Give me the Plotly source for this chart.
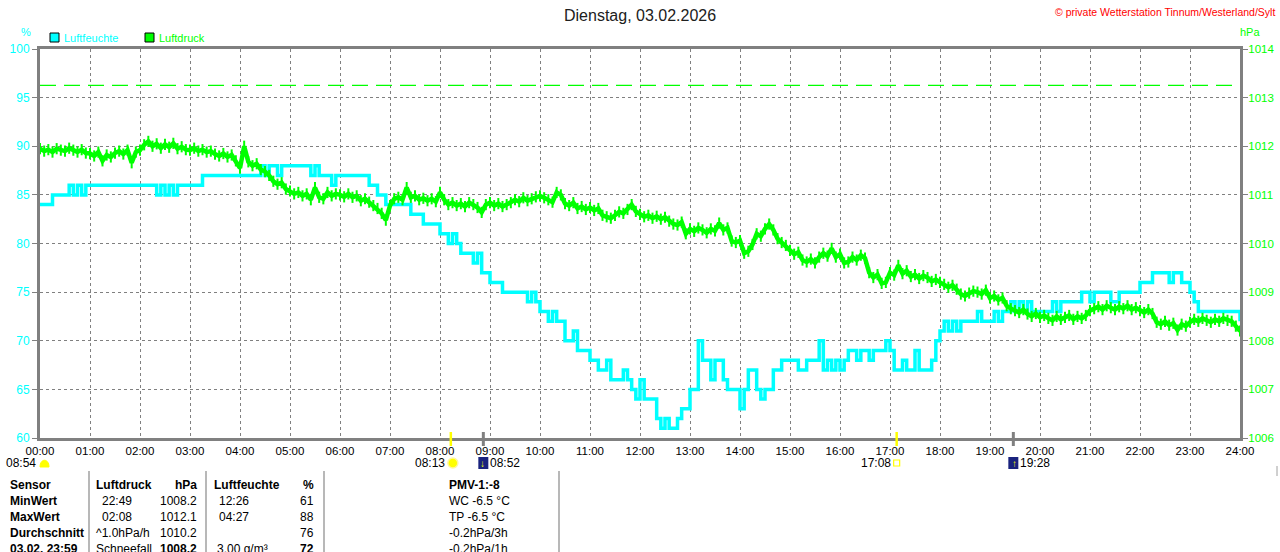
import pandas as pd
import plotly.graph_objects as go

titel = "Dienstag, 03.02.2026"
copyright_txt = "© private Wetterstation Tinnum/Westerland/Sylt"

stunden = ["%02d:00" % h for h in range(25)]

# Luftfeuchte in %, 5-Minuten-Werte (00:00 .. 24:00)
feuchte = [
    84, 84, 84, 85, 85, 85, 85, 86, 85, 86, 85, 86,   # 00
    86, 86, 86, 86, 86, 86, 86, 86, 86, 86, 86, 86,   # 01
    86, 86, 86, 86, 85, 86, 85, 86, 85, 86, 86, 86,   # 02
    86, 86, 86, 87, 87, 87, 87, 87, 87, 87, 87, 87,   # 03
    87, 87, 87, 87, 87, 88, 87, 88, 88, 87, 88, 88,   # 04
    88, 88, 88, 88, 88, 87, 88, 87, 87, 87, 86, 87,   # 05
    87, 87, 87, 87, 87, 87, 87, 86, 86, 85, 85, 84,   # 06
    84, 84, 84, 84, 84, 83, 83, 83, 82, 82, 82, 82,   # 07
    81, 81, 80, 81, 80, 79, 79, 79, 78, 79, 77, 77,   # 08
    76, 76, 76, 75, 75, 75, 75, 75, 75, 74, 75, 74,   # 09
    73, 73, 72, 73, 72, 72, 70, 70, 71, 69, 69, 69,   # 10
    68, 68, 67, 67, 68, 66, 66, 66, 67, 66, 65, 64,   # 11
    66, 64, 64, 64, 62, 61, 62, 61, 61, 62, 63, 63,   # 12
    65, 65, 70, 68, 68, 66, 68, 68, 66, 65, 65, 65,   # 13
    63, 65, 67, 67, 65, 64, 65, 65, 67, 67, 68, 68,   # 14
    68, 68, 67, 67, 68, 68, 68, 70, 67, 68, 67, 68,   # 15
    67, 68, 69, 69, 68, 69, 69, 68, 69, 69, 69, 70,   # 16
    69, 67, 67, 68, 67, 67, 69, 67, 67, 67, 68, 70,   # 17
    71, 72, 71, 72, 71, 72, 72, 72, 72, 73, 72, 72,   # 18
    72, 73, 72, 73, 73, 74, 73, 74, 73, 74, 73, 73,   # 19
    73, 73, 73, 74, 73, 74, 74, 74, 74, 74, 75, 75,   # 20
    74, 75, 75, 75, 75, 74, 74, 75, 75, 75, 75, 75,   # 21
    76, 76, 76, 77, 77, 77, 77, 76, 77, 77, 76, 76,   # 22
    75, 74, 73, 73, 73, 73, 73, 73, 73, 73, 73, 73,   # 23
    72,
]

# Luftdruck in hPa, 5-Minuten-Werte
druck = [
    1011.95, 1011.90, 1011.93, 1011.88, 1011.95, 1011.92, 1011.90, 1011.96, 1011.92, 1011.88, 1011.93, 1011.86,
    1011.85, 1011.80, 1011.88, 1011.70, 1011.82, 1011.78, 1011.86, 1011.90, 1011.84, 1011.92, 1011.66, 1011.88,
    1011.92, 1012.03, 1012.10, 1012.00, 1012.05, 1011.96, 1012.04, 1011.98, 1012.06, 1011.95, 1011.99, 1011.93,
    1011.92, 1011.96, 1011.90, 1011.93, 1011.88, 1011.90, 1011.84, 1011.80, 1011.85, 1011.78, 1011.82, 1011.70,
    1011.55, 1012.00, 1011.68, 1011.60, 1011.64, 1011.52, 1011.48, 1011.40, 1011.28, 1011.22, 1011.25, 1011.12,
    1011.08, 1011.02, 1011.05, 1010.98, 1011.02, 1010.90, 1011.15, 1010.95, 1010.92, 1011.05, 1010.98, 1011.02,
    1011.00, 1010.96, 1011.02, 1010.95, 1010.98, 1010.88, 1010.92, 1010.85, 1010.78, 1010.72, 1010.62, 1010.48,
    1010.78, 1010.92, 1010.95, 1010.90, 1011.15, 1010.95, 1010.98, 1010.90, 1010.93, 1010.88, 1010.92, 1010.86,
    1011.05, 1010.90, 1010.80, 1010.84, 1010.78, 1010.82, 1010.76, 1010.84, 1010.80, 1010.74, 1010.64, 1010.80,
    1010.84, 1010.78, 1010.82, 1010.76, 1010.80, 1010.84, 1010.90, 1010.86, 1010.94, 1010.88, 1010.92, 1010.96,
    1010.98, 1010.94, 1010.90, 1010.85, 1011.05, 1011.00, 1010.82, 1010.78, 1010.84, 1010.72, 1010.76, 1010.70,
    1010.74, 1010.68, 1010.72, 1010.58, 1010.55, 1010.52, 1010.58, 1010.65, 1010.62, 1010.70, 1010.80, 1010.66,
    1010.60, 1010.55, 1010.58, 1010.52, 1010.56, 1010.50, 1010.54, 1010.46, 1010.40, 1010.38, 1010.44, 1010.20,
    1010.30, 1010.25, 1010.32, 1010.28, 1010.22, 1010.30, 1010.26, 1010.42, 1010.28, 1010.32, 1010.05, 1010.02,
    1010.06, 1009.80, 1009.84, 1009.98, 1010.20, 1010.15, 1010.30, 1010.40, 1010.28, 1010.10, 1010.02, 1009.96,
    1009.86, 1009.78, 1009.82, 1009.66, 1009.62, 1009.68, 1009.60, 1009.72, 1009.80, 1009.74, 1009.90, 1009.72,
    1009.78, 1009.60, 1009.62, 1009.72, 1009.66, 1009.76, 1009.70, 1009.40, 1009.30, 1009.36, 1009.18, 1009.20,
    1009.40, 1009.35, 1009.55, 1009.38, 1009.44, 1009.32, 1009.36, 1009.28, 1009.34, 1009.30, 1009.22, 1009.26,
    1009.20, 1009.16, 1009.10, 1009.14, 1009.06, 1008.96, 1008.92, 1008.98, 1009.02, 1009.00, 1008.96, 1009.04,
    1008.88, 1008.92, 1008.84, 1008.88, 1008.72, 1008.66, 1008.62, 1008.58, 1008.64, 1008.55, 1008.50, 1008.56,
    1008.48, 1008.52, 1008.46, 1008.42, 1008.50, 1008.44, 1008.48, 1008.52, 1008.44, 1008.50, 1008.46, 1008.52,
    1008.62, 1008.66, 1008.70, 1008.64, 1008.72, 1008.68, 1008.64, 1008.70, 1008.66, 1008.72, 1008.64, 1008.68,
    1008.62, 1008.58, 1008.64, 1008.56, 1008.38, 1008.34, 1008.40, 1008.32, 1008.36, 1008.22, 1008.34, 1008.30,
    1008.38, 1008.44, 1008.40, 1008.46, 1008.42, 1008.38, 1008.44, 1008.40, 1008.46, 1008.42, 1008.40, 1008.30,
    1008.20,
]

normaldruck = 1013.25

# Sonne / Mond
sonne_auf = "08:13"
sonne_unter = "17:08"
mond_unter = "08:52"
mond_auf = "19:28"
sonnenschein = "08:54"

# Tabelle unten
tab_sensor = ["Sensor", "MinWert", "MaxWert", "Durchschnitt", "03.02. 23:59"]
tab_druck_zeit = ["Luftdruck", "22:49", "02:08", "^1.0hPa/h", "Schneefall"]
tab_druck_wert = ["hPa", "1008.2", "1012.1", "1010.2", "1008.2"]
tab_feuchte_zeit = ["Luftfeuchte", "12:26", "04:27", "", "3.00 g/m³"]
tab_feuchte_wert = ["%", "61", "88", "76", "72"]
tab_extra = ["PMV-1:-8", "WC -6.5 °C", "TP -6.5 °C", "-0.2hPa/3h", "-0.2hPa/1h"]

CYAN = "#00FFFF"
GRUEN = "#00FF00"
GRAU = "#808080"
FONT = "Liberation Sans, Arial, sans-serif"

tag = "2026-02-03 "
zeit = pd.date_range(tag + "00:00", "2026-02-04 00:00", freq="5min")
tickzeit = pd.date_range(tag + "00:00", "2026-02-04 00:00", freq="1h")


# Plotbereich liegt bei x 40..1240, y 49..438 (Pixel)
def xp(px):
    return (px - 40) / 1200


def yp(py):
    return (438 - py) / 389


fig = go.Figure()

fig.add_trace(go.Scatter(x=zeit, y=druck, yaxis="y2", mode="lines+markers",
                         line=dict(color=GRUEN, width=4.5),
                         marker=dict(symbol="line-ns", size=8, color=GRUEN,
                                     line=dict(color=GRUEN, width=2)),
                         name="Luftdruck"))
fig.add_trace(go.Scatter(x=zeit, y=feuchte, mode="lines", line_shape="hv",
                         line=dict(color=CYAN, width=3.5), name="Luftfeuchte"))
# Normaldruck
fig.add_trace(go.Scatter(x=[zeit[0], zeit[-1]], y=[normaldruck, normaldruck], yaxis="y2",
                         mode="lines", line=dict(color=GRUEN, width=1.3, dash="16px,8px"),
                         hoverinfo="skip"))

shapes = []
ann = []


def ts(hhmm):
    return pd.Timestamp(tag + hhmm)


def text(x, y, txt, xanchor="center", font=None, xref="paper", xshift=0):
    ann.append(dict(x=x, y=y, xref=xref, yref="paper", text=txt, xanchor=xanchor,
                    yanchor="middle", xshift=xshift, showarrow=False, font=font))


# Sonne/Mond Markierungen an der x-Achse
for t, farbe, w in [(sonne_auf, "#FFFF00", 2.5), (sonne_unter, "#FFFF00", 2.5),
                    (mond_unter, GRAU, 3), (mond_auf, GRAU, 3)]:
    shapes.append(dict(type="line", xref="x", yref="paper", x0=ts(t), x1=ts(t),
                       y0=yp(446), y1=yp(432), line=dict(color=farbe, width=w)))

ev_font = dict(family=FONT, size=12, color="black")
pfeil_font = dict(family=FONT, size=10, color="#FFFF00")
ev_y = yp(463)
# Sonnenaufgang
text(ts(sonne_auf), ev_y, sonne_auf, "right", ev_font, "x", -4)
shapes.append(dict(type="circle", xref="x", yref="paper", xsizemode="pixel", ysizemode="pixel",
                   xanchor=ts(sonne_auf), yanchor=ev_y, x0=-3, x1=7, y0=-5, y1=5,
                   fillcolor="#FFFF00", line=dict(color="#FFF6A0", width=1.5)))
# Monduntergang
shapes.append(dict(type="rect", xref="x", yref="paper", xsizemode="pixel", ysizemode="pixel",
                   xanchor=ts(mond_unter), yanchor=ev_y, x0=-5, x1=5, y0=-6, y1=6,
                   fillcolor="#1a237e", line=dict(width=0)))
text(ts(mond_unter), ev_y, "↓", "center", pfeil_font, "x", -1)
text(ts(mond_unter), ev_y, mond_unter, "left", ev_font, "x", 5)
# Sonnenuntergang
text(ts(sonne_unter), ev_y, sonne_unter, "right", ev_font, "x", -4)
shapes.append(dict(type="rect", xref="x", yref="paper", xsizemode="pixel", ysizemode="pixel",
                   xanchor=ts(sonne_unter), yanchor=ev_y, x0=-3, x1=3, y0=-3, y1=3,
                   fillcolor="white", line=dict(color="#FFFF00", width=1.2)))
# Mondaufgang
shapes.append(dict(type="rect", xref="x", yref="paper", xsizemode="pixel", ysizemode="pixel",
                   xanchor=ts(mond_auf), yanchor=ev_y, x0=-5, x1=5, y0=-6, y1=6,
                   fillcolor="#1a237e", line=dict(width=0)))
text(ts(mond_auf), ev_y, "↑", "center", pfeil_font, "x", 1)
text(ts(mond_auf), ev_y, mond_auf, "left", ev_font, "x", 5)
# Sonnenscheindauer
text(xp(38), ev_y, sonnenschein, "right", ev_font)
shapes.append(dict(type="path", xref="paper", yref="paper",
                   path="M %f,%f C %f,%f %f,%f %f,%f Z" % (xp(40), yp(467), xp(40), yp(458),
                                                          xp(49), yp(458), xp(49), yp(467)),
                   fillcolor="#FFFF00", line=dict(color="#FFFF00", width=1)))

# Titel, Copyright, Einheiten
text(0.5, yp(15), titel, "center", dict(family=FONT, size=16, color="#202020"))
text(xp(1277), yp(12), copyright_txt, "right", dict(family=FONT, size=10.5, color="#FF0000"))
text(xp(26), yp(32), "%", "center", dict(family=FONT, size=11, color=CYAN))
text(xp(1250), yp(32), "hPa", "center", dict(family=FONT, size=11, color=GRUEN))

# Legende
for x0, farbe, txt in [(50, CYAN, "Luftfeuchte"), (145, GRUEN, "Luftdruck")]:
    shapes.append(dict(type="rect", xref="paper", yref="paper", x0=xp(x0), x1=xp(x0 + 9),
                       y0=yp(42), y1=yp(33), fillcolor=farbe, line=dict(color="black", width=1)))
    text(xp(x0 + 12), yp(38), txt, "left", dict(family=FONT, size=11, color=farbe))

# Tabelle
zeilen_y = [485, 501, 517, 533, 549]
tab_font = dict(family=FONT, size=12, color="black")


def cell(px, py, txt, anchor="left", bold=False):
    if txt:
        text(xp(px), yp(py), "<b>%s</b>" % txt if bold else txt, anchor, tab_font)


for i, py in enumerate(zeilen_y):
    kopf = i == 0
    cell(8, py, tab_sensor[i], bold=True)
    cell(94 if i in (0, 3, 4) else 100, py, tab_druck_zeit[i], bold=kopf)
    cell(199, py, tab_druck_wert[i], "right", bold=kopf or i == 4)
    cell(212 if kopf else (215 if i == 4 else 217), py, tab_feuchte_zeit[i], bold=kopf)
    cell(316, py, tab_feuchte_wert[i], "right", bold=kopf or i == 4)
    cell(447, py, tab_extra[i], bold=kopf)

for sx in [89, 206, 324, 559]:
    shapes.append(dict(type="line", xref="paper", yref="paper", x0=xp(sx), x1=xp(sx),
                       y0=yp(471), y1=yp(560), line=dict(color="#A0A0A0", width=1.5)))
shapes.append(dict(type="line", xref="paper", yref="paper", x0=xp(1277), x1=xp(1277),
                   y0=yp(466), y1=yp(476), line=dict(color="#A0A0A0", width=1)))

fig.update_layout(
    width=1280, height=552,
    margin=dict(l=40, r=40, t=49, b=114, autoexpand=False),
    paper_bgcolor="white", plot_bgcolor="white",
    showlegend=False,
    font=dict(family=FONT, size=12),
    xaxis=dict(type="date", range=[zeit[0], zeit[-1]],
               tickvals=tickzeit, ticktext=stunden,
               tickfont=dict(family=FONT, size=11.5, color="black"),
               showgrid=True, gridcolor=GRAU, griddash="3px,3px", gridwidth=1,
               showline=True, mirror=True, linecolor=GRAU, linewidth=3,
               ticks="", zeroline=False),
    yaxis=dict(range=[60, 100], dtick=5, tick0=60,
               tickfont=dict(family=FONT, size=12, color=CYAN),
               showgrid=True, gridcolor=GRAU, griddash="3px,3px", gridwidth=1,
               showline=True, mirror=True, linecolor=GRAU, linewidth=3,
               ticks="outside", ticklen=5, tickcolor=GRAU, zeroline=False),
    yaxis2=dict(range=[1006, 1014], dtick=1, tick0=1006, overlaying="y", side="right",
                tickfont=dict(family=FONT, size=11.5, color=GRUEN),
                showgrid=False, ticks="outside", ticklen=5, tickcolor=GRAU,
                ticklabelstandoff=-2,
                showline=True, linecolor=GRAU, linewidth=3, zeroline=False),
    shapes=shapes,
    annotations=ann,
)

# Seitenrand entfernen, damit die Grafik genau das Fenster fuellt
fig.write_html("out.html", config={"displayModeBar": False},
               post_script="document.body.style.margin='0';")
